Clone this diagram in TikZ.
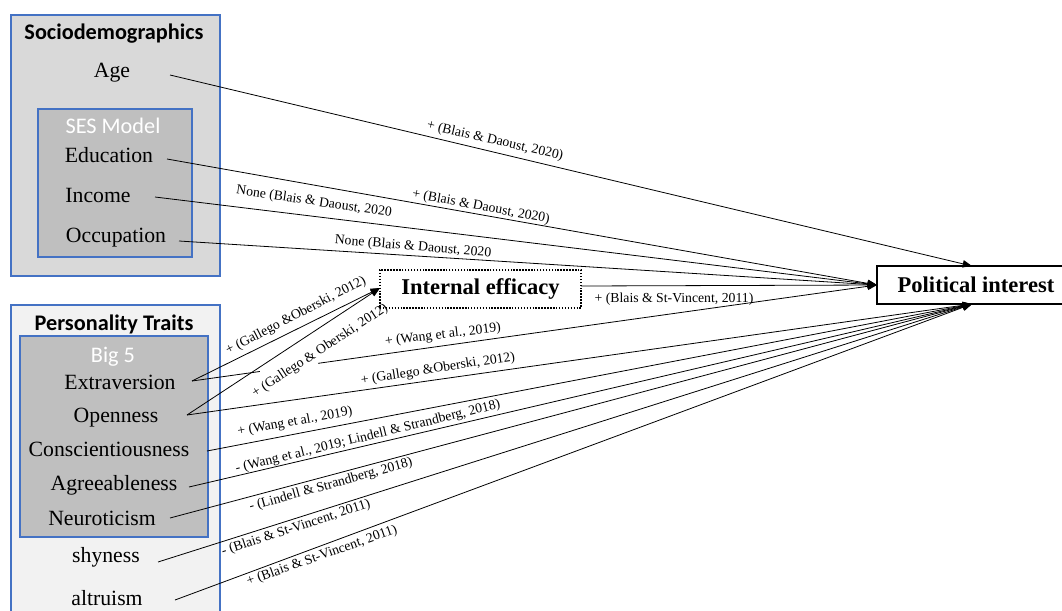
\documentclass[tikz,border=0pt]{standalone}
\usepackage{fontspec}
\setmainfont{Liberation Serif}
\newfontfamily\calfont{Carlito}
\usetikzlibrary{arrows.meta,calc}
\definecolor{bordblue}{HTML}{4472C4}
\definecolor{grpA}{RGB}{217,217,217}
\definecolor{grpB}{RGB}{191,191,191}
\definecolor{grpC}{RGB}{242,242,242}
\begin{document}
\begin{tikzpicture}[x=0.75pt,y=-0.75pt,
  grp/.style={draw=bordblue, line width=1pt},
  var/.style={font=\fontsize{16.3}{19}\selectfont, inner sep=0pt, anchor=base},
  ttl/.style={font=\calfont\bfseries\fontsize{16.7}{20}\selectfont, inner sep=0pt, anchor=base},
  subttl/.style={font=\calfont\fontsize{16.7}{20}\selectfont, text=white, inner sep=0pt, anchor=base},
  lab/.style={font=\fontsize{10.3}{12}\selectfont, inner sep=0.5pt},
  conn/.style={line width=0.6pt, -{Triangle[length=7pt,width=5.5pt]}},
  plainconn/.style={line width=0.6pt},
  outcome/.style={draw, line width=1.1pt, font=\bfseries\fontsize{16.9}{20}\selectfont, inner sep=0pt},
]
\useasboundingbox (0,0) rectangle (1062,610);
% group boxes
\draw[grp, fill=grpA] (11,15) rectangle (220,276);
\draw[grp, fill=grpB] (38,109) rectangle (192,257);
\draw[grp, fill=grpC] (11,305) rectangle (220,640);
\draw[grp, fill=grpB] (20,336) rectangle (208,537);
% titles
\node[ttl] (tsocio) at (114,40) {Sociodemographics};
\node[subttl] (tses) at (113,133) {SES Model};
\node[ttl] (tpers) at (114,330) {Personality Traits};
\node[subttl] (tbig) at (113,362) {Big 5};
% variables
\node[var] (age) at (112,77) {Age};
\node[var] (edu) at (109,162) {Education};
\node[var] (inc) at (98,202) {Income};
\node[var] (occ) at (116,242) {Occupation};
\node[var] (ext) at (120,389) {Extraversion};
\node[var] (ope) at (116,422) {Openness};
\node[var] (con) at (109,456) {Conscientiousness};
\node[var] (agr) at (114,490) {Agreeableness};
\node[var] (neu) at (102,525) {Neuroticism};
\node[var] (shy) at (106,562) {shyness};
\node[var] (alt) at (107,605) {altruism};
% mediator and outcome
\node[draw, line width=1.2pt, dash pattern=on 1.1pt off 1.1pt, minimum width=150.75pt, minimum height=28.5pt, inner sep=0pt, font=\bfseries\fontsize{16.9}{20}\selectfont] (ie) at (480.5,289) {Internal efficacy};
\node[outcome, minimum width=148.5pt, minimum height=28.5pt] (pi) at (976,285) {Political interest};
% connector end points
\coordinate (ageo) at (170,75);
\coordinate (eduo) at (167,159);
\coordinate (inco) at (155,197);
\coordinate (occo) at (179,241);
\coordinate (exto) at (192,381);
\coordinate (opeo) at (187,415);
\coordinate (cono) at (207,451);
\coordinate (agro) at (189,487);
\coordinate (neuo) at (170,518);
\coordinate (shyo) at (158,562);
\coordinate (alto) at (175,600);
\coordinate (pitop) at (972,266);
\coordinate (pileft) at (877,285);
\coordinate (pibot) at (972,304);
\coordinate (iein) at (380,288);
\coordinate (ieout) at (581,286);
% connectors
\draw[conn] (ageo) -- (pitop);
\draw[conn] (eduo) -- (pileft);
\draw[conn] (inco) -- (pileft);
\draw[conn] (occo) -- (pileft);
\draw[conn] (ieout) -- (pileft);
\draw[plainconn] (exto) -- ($(exto)!0.099!(pileft)$);
\draw[conn] ($(exto)!0.184!(pileft)$) -- (pileft);
\draw[conn] (exto) -- (iein);
\draw[conn] (opeo) -- (iein);
\draw[conn] (opeo) -- (pibot);
\draw[conn] (cono) -- (pibot);
\draw[conn] (agro) -- (pibot);
\draw[conn] (neuo) -- (pibot);
\draw[conn] (shyo) -- (pibot);
\draw[conn] (alto) -- (pibot);
% labels
\node[lab, rotate=-13] (l1) at (495,141) {+ (Blais \& Daoust, 2020)};
\node[lab, rotate=-10.5] (l2) at (481,207) {+ (Blais \& Daoust, 2020)};
\node[lab, rotate=-8.3] (l3) at (314,202) {None (Blais \& Daoust, 2020};
\node[lab, rotate=-4.7] (l4) at (413,247) {None (Blais \& Daoust, 2020};
\node[lab] (l5) at (674,299) {+ (Blais \& St-Vincent, 2011)};
\node[lab, rotate=27.4] (l6) at (296,316) {+ (Gallego \&Oberski, 2012)};
\node[lab, rotate=33.3] (l7) at (320,351) {+ (Gallego \& Oberski, 2012)};
\node[lab, rotate=6.8] (l8) at (443,335) {+ (Wang et al., 2019)};
\node[lab, rotate=8.7] (l9) at (438,369) {+ (Gallego \&Oberski, 2012)};
\node[lab, rotate=10.3] (l10) at (295,422) {+ (Wang et al., 2019)};
\node[lab, rotate=13.8] (l11) at (368,437) {- (Wang et al., 2019; Lindell \& Strandberg, 2018)};
\node[lab, rotate=15.6] (l12) at (331,485) {- (Lindell \& Strandberg, 2018)};
\node[lab, rotate=18] (l13) at (296,528) {- (Blais \& St-Vincent, 2011)};
\node[lab, rotate=19.5] (l14) at (322,556) {+ (Blais \& St-Vincent, 2011)};
\end{tikzpicture}
\end{document}
